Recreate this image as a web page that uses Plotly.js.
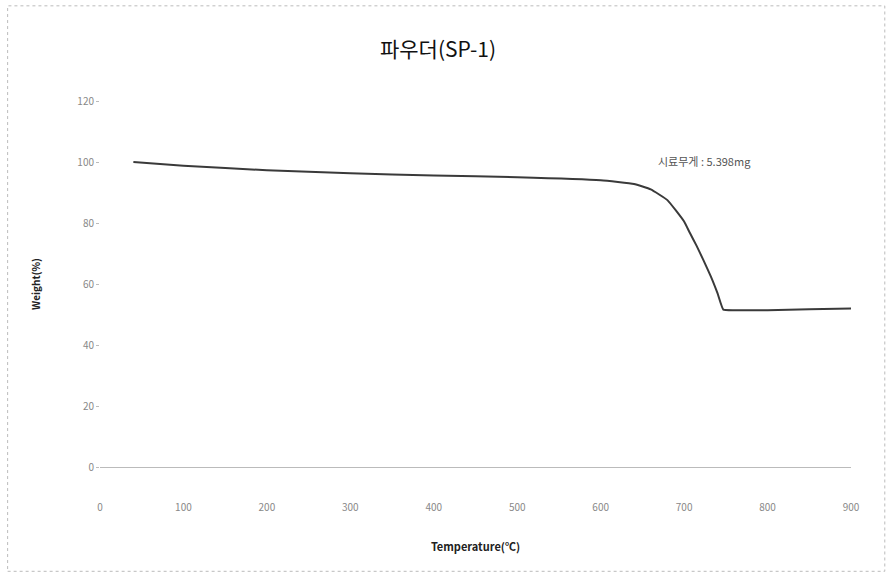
<!DOCTYPE html>
<html>
<head>
<meta charset="utf-8">
<script src="https://cdn.plot.ly/plotly-3.0.1.min.js"></script>
<style>html,body{margin:0;padding:0;background:#fff;}#chart{width:894px;height:587px;}</style>
</head>
<body>
<div id="chart"></div>
<script>
// Temperature (°C) and residual weight (%)
const temperature = [40, 100, 200, 300, 400, 500, 600, 640, 660, 680, 700, 707, 715, 723, 732, 740, 747, 760, 800, 850, 905];
const weight      = [100, 98.8, 97.3, 96.3, 95.6, 95.0, 94.0, 92.8, 91.0, 87.5, 80.5, 76.7, 72.5, 67.9, 62.5, 57.0, 51.6, 51.4, 51.4, 51.7, 52.0];
const xTicks = [0, 100, 200, 300, 400, 500, 600, 700, 800, 900];
const yTicks = [0, 20, 40, 60, 80, 100, 120];
const chartTitle = '파우더(SP-1)';
const noteText = '시료무게 : 5.398mg';

const trace = {
  x: temperature, y: weight, type: 'scatter', mode: 'lines',
  line: {color: '#3a3a3a', width: 2, shape: 'spline', smoothing: 0.35},
  cliponaxis: false,
  hoverinfo: 'skip'
};

const layout = {
  width: 894, height: 587,
  margin: {l: 100, r: 43, t: 101, b: 120},
  paper_bgcolor: '#fff', plot_bgcolor: '#fff',
  showlegend: false,
  font: {family: '"Noto Sans CJK KR", "Noto Sans", sans-serif', color: '#555'},
  title: {text: chartTitle, x: 0.49, xanchor: 'center', y: 0.915, yanchor: 'middle',
          font: {size: 21, color: '#111', family: '"Noto Sans CJK KR", sans-serif'}},
  xaxis: {range: [0, 900], tickvals: xTicks, ticktext: xTicks.map(String),
          showgrid: false, zeroline: false, showline: true, linecolor: '#bbb', linewidth: 1,
          ticks: '', tickfont: {size: 10, color: '#888'}, ticklabelstandoff: 31,
          title: {text: 'Temperature(℃)', standoff: 30, font: {size: 11, color: '#222', family: '"Noto Sans CJK KR", sans-serif', weight: 'bold'}}},
  yaxis: {range: [0, 120], tickvals: yTicks, ticktext: yTicks.map(String),
          showgrid: false, zeroline: false, showline: false,
          ticks: 'outside', ticklen: 3, tickcolor: '#bbb', tickfont: {size: 10, color: '#888'},
          title: {text: 'Weight(%)', standoff: 34, font: {size: 10, color: '#222', family: '"Noto Sans CJK KR", sans-serif', weight: 'bold'}}},
  annotations: [{
    text: noteText, xref: 'paper', yref: 'paper', x: 0.805, y: 0.835,
    xanchor: 'center', yanchor: 'middle', showarrow: false,
    font: {size: 11, color: '#555'}
  }],
  shapes: [{
    type: 'rect', xref: 'paper', yref: 'paper', layer: 'below',
    x0: -0.123, x1: 1.045, y0: -0.285, y1: 1.26,
    line: {color: '#bbb', width: 1, dash: 'dot'}
  }]
};

Plotly.newPlot('chart', [trace], layout, {displayModeBar: false, staticPlot: true});
</script>
</body>
</html>
